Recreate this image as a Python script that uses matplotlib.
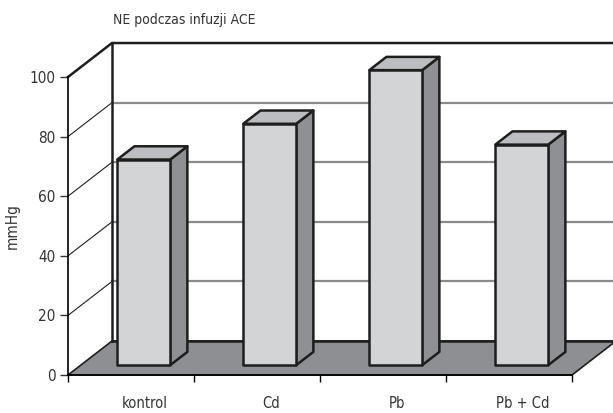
import matplotlib
matplotlib.use('Agg')
import matplotlib.pyplot as plt
from matplotlib.patches import Polygon

plt.rcParams['font.family'] = ['DejaVu Sans']
plt.rcParams['font.stretch'] = 'condensed'

# dane
categories = ['kontrol', 'Cd', 'Pb', 'Pb + Cd']
values = [69, 81, 99, 74]
yticks = [0, 20, 40, 60, 80, 100]
title = 'NE podczas infuzji ACE'
ylabel = 'mmHg'

# "glebia" pseudo-3D (w jednostkach danych)
DX, DY = 0.349, 11.4
T0, T1 = 0.29, 0.68
BW = 0.42
FRONT, TOP, SIDE = '#d3d4d6', '#bcbdc0', '#8f9094'
FLOOR, GRID, INK = '#8e8f93', '#8a8a8a', '#1e1e1e'


def p(x, y, t):
    return (x + DX * t, y + DY * t)


fig = plt.figure(figsize=(6.13, 4.13), dpi=100)
ax = fig.add_axes([68 / 613, 38 / 413, 504 / 613, 298 / 413])
n = len(categories)
ax.set_xlim(0, n); ax.set_ylim(0, 100)
xr = n + 1  # sciana tylna wychodzi poza rysunek

# podloga
ax.add_patch(Polygon([p(0, 0, 0), p(n, 0, 0), p(n, 0, 1), p(0, 0, 1)], closed=True,
                     facecolor=FLOOR, edgecolor=INK, linewidth=1.2, clip_on=False, zorder=1))
ax.plot([p(0, 0, 1)[0], p(xr, 0, 1)[0]], [p(0, 0, 1)[1]] * 2, color=INK, lw=1.8, clip_on=False, zorder=1.5)

# siatka: sciana tylna i lewa
for v in yticks[1:-1]:
    a, b = p(0, v, 0), p(0, v, 1)
    ax.plot([a[0], b[0]], [a[1], b[1]], color=INK, lw=0.8, clip_on=False, zorder=1)
    ax.plot([b[0], p(xr, v, 1)[0]], [b[1], b[1]], color=GRID, lw=1.6, clip_on=False, zorder=1)
a, b = p(0, 100, 0), p(0, 100, 1)
ax.plot([a[0], b[0], p(xr, 100, 1)[0]], [a[1], b[1], b[1]], color=INK, lw=1.8, clip_on=False, zorder=1)
ax.plot([b[0], b[0]], [p(0, 0, 1)[1], b[1]], color=INK, lw=1.8, clip_on=False, zorder=1)

# slupki
for i, v in enumerate(values):
    x0, x1 = i + 0.5 - BW / 2, i + 0.5 + BW / 2
    kw = dict(closed=True, edgecolor=INK, linewidth=1.8, joinstyle='round', clip_on=False, zorder=3)
    ax.add_patch(Polygon([p(x1, 0, T0), p(x1, 0, T1), p(x1, v, T1), p(x1, v, T0)], facecolor=SIDE, **kw))
    ax.add_patch(Polygon([p(x0, v, T0), p(x1, v, T0), p(x1, v, T1), p(x0, v, T1)], facecolor=TOP, **kw))
    ax.add_patch(Polygon([p(x0, 0, T0), p(x1, 0, T0), p(x1, v, T0), p(x0, v, T0)], facecolor=FRONT, **kw))

# osie
for s in ('top', 'right'):
    ax.spines[s].set_visible(False)
ax.spines['left'].set_linewidth(1.2); ax.spines['bottom'].set_linewidth(1.2)
ax.spines['left'].set_zorder(2); ax.spines['bottom'].set_zorder(2)
ax.set_yticks(yticks)
ax.set_xticks(range(n + 1)); ax.set_xticklabels([])
ax.set_xticks([i + 0.61 for i in range(n)], minor=True)
ax.set_xticklabels(categories, minor=True)
ax.tick_params(axis='y', length=6, width=1, labelsize=11, colors='#333333', pad=3)
ax.tick_params(axis='x', which='major', length=5, width=1)
ax.tick_params(axis='x', which='minor', length=0, labelsize=10.5, labelcolor='#333333', pad=15)
ax.set_ylabel(ylabel, fontsize=11, color='#333333', labelpad=7)
fig.text(113 / 613, 1 - 20 / 413, title, fontsize=10, color='#333333', va='center', ha='left')

fig.savefig('out.png', dpi=100)
